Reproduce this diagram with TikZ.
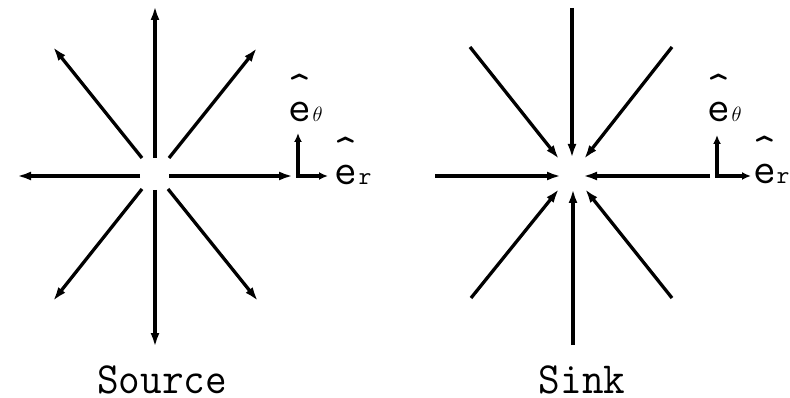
\documentclass[tikz,border=0pt]{standalone}
\usepackage{fontspec}
\usetikzlibrary{arrows.meta}
\tikzset{
  ray/.style={line width=3.3pt,-{Latex[length=14pt,width=9pt]}},
  basis/.style={line width=3.8pt,{Latex[length=9pt,width=8pt]}-{Latex[length=9pt,width=8pt]},line join=miter},
  elbl/.style={inner sep=0pt,anchor=south,align=center,font=\fontsize{44}{3}\selectfont\ttfamily},
  thlbl/.style={inner sep=0pt,anchor=base west,font=\fontsize{20}{20}\selectfont},
  rlbl/.style={inner sep=0pt,anchor=base west,font=\fontsize{25}{25}\selectfont\ttfamily},
  title/.style={inner sep=0pt,anchor=base,text depth=0pt,font=\fontsize{42}{42}\selectfont\ttfamily}
}
\begin{document}
\begin{tikzpicture}[x=1pt,y=-1pt]
\useasboundingbox[fill=white] (0,0) rectangle (790,398);
% ---- Source ----
\coordinate (su0) at (155,158); \coordinate (su1) at (155,6);
\coordinate (sul0) at (142,158); \coordinate (sul1) at (53,47);
\coordinate (sur0) at (169,158); \coordinate (sur1) at (257,48);
\coordinate (sl0) at (140,176); \coordinate (sl1) at (17,176);
\coordinate (sr0) at (169,176); \coordinate (sr1) at (293,176);
\coordinate (sdl0) at (142,189); \coordinate (sdl1) at (53,301);
\coordinate (sd0) at (155,190); \coordinate (sd1) at (155,347);
\coordinate (sdr0) at (168,189); \coordinate (sdr1) at (258,301);
\foreach \a in {su,sul,sur,sl,sr,sdl,sd,sdr} \draw[ray] (\a0) -- (\a1);
% ---- Sink ----
\coordinate (ku0) at (572,8); \coordinate (ku1) at (572,158);
\coordinate (kul0) at (470,47); \coordinate (kul1) at (559,159);
\coordinate (kur0) at (672,47); \coordinate (kur1) at (584,159);
\coordinate (kl0) at (435,176); \coordinate (kl1) at (561,176);
\coordinate (kr0) at (710,176); \coordinate (kr1) at (583,176);
\coordinate (kdl0) at (471,298); \coordinate (kdl1) at (559,189);
\coordinate (kd0) at (573,345); \coordinate (kd1) at (573,189);
\coordinate (kdr0) at (672,298); \coordinate (kdr1) at (585,189);
\foreach \a in {ku,kul,kur,kl,kr,kdl,kd,kdr} \draw[ray] (\a0) -- (\a1);
% ---- basis frames ----
\coordinate (sc) at (298,176); \coordinate (st) at (298,133); \coordinate (sx) at (328,176);
\draw[basis] (st) -- (sc) -- (sx);
\coordinate (kc) at (717,176); \coordinate (kt) at (717,135); \coordinate (kx) at (751,176);
\draw[basis] (kt) -- (kc) -- (kx);
% labels source
\node[elbl] (ste) at (300,122) {\^{}\\e};
\node[thlbl] (stt) at (312.5,122) {$\theta$};
\node[elbl] (sre) at (346,185) {\^{}\\e};
\node[rlbl] (srr) at (358.5,185) {r};
% labels sink
\node[elbl] (kte) at (719,122) {\^{}\\e};
\node[thlbl] (ktt) at (731.5,122) {$\theta$};
\node[elbl] (kre) at (764.5,184) {\^{}\\e};
\node[rlbl] (krr) at (776.5,184) {r};
% titles
\node[title] (src) at (162,393) {\scalebox{1}[1.06]{Source}};
\node[title] (snk) at (582,393) {\scalebox{1}[1.06]{Sink}};
\end{tikzpicture}
\end{document}
